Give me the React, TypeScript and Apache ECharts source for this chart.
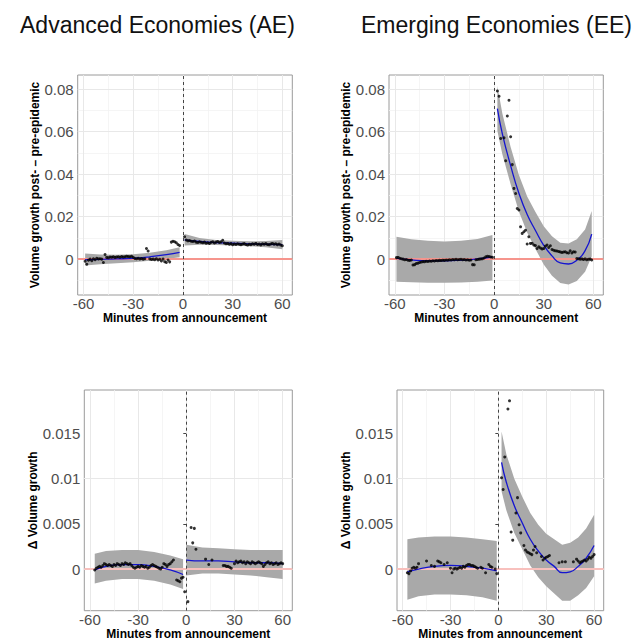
import React, { useEffect, useRef } from 'react';
import * as echarts from 'echarts';

// ---------- tick labels ----------
const X_TICKS = [-60, -30, 0, 30, 60];
const X_MINOR = [-45, -15, 15, 45];
const Y_TICKS_TOP = [0, 0.02, 0.04, 0.06, 0.08];
const Y_MINOR_TOP = [-0.01, 0.01, 0.03, 0.05, 0.07];
const Y_TICKS_BOTTOM = [0, 0.005, 0.01, 0.015];
const Y_MINOR_BOTTOM = [-0.0025, 0.0025, 0.0075, 0.0125, 0.0175];

const TITLES = ['Advanced Economies (AE)', 'Emerging Economies (EE)'];
const Y_NAME_TOP = 'Volume growth post- \u2013 pre-epidemic';
const Y_NAME_BOTTOM = '\u0394 Volume growth';
const X_NAME = 'Minutes from announcement';

// ---------- Panel 1: AE, level ----------
const aeLevPrePts: number[][] = [
  [-59, -0.001], [-58, -0.0024], [-57, -0.0005], [-56, 0.0], [-55, -0.0008], [-54, 0.0002], [-53, -0.0003],
  [-52, 0.0004], [-51, 0.0001], [-50, 0.0002], [-49, 0.0], [-48, -0.0016], [-47, 0.0022], [-46, 0.0008],
  [-45, 0.0006], [-44, 0.001], [-43, 0.0009], [-42, 0.0011], [-41, 0.0008], [-40, 0.001], [-39, 0.0011],
  [-38, 0.0009], [-37, 0.0012], [-36, 0.001], [-35, 0.0011], [-34, 0.0013], [-33, 0.0012], [-32, 0.0011],
  [-31, 0.0013], [-30, 0.0009], [-29, 0.0003], [-28, 0.0002], [-27, 0.0004], [-26, 0.0001], [-25, 0.0003],
  [-24, 0.0], [-23, 0.0002], [-22, 0.005], [-21, 0.0038], [-20, 0.0001], [-19, -0.0002], [-18, 0.0],
  [-17, -0.0003], [-16, 0.0002], [-15, -0.0004], [-14, -0.0001], [-13, -0.0009], [-12, 0.0], [-11, -0.0012],
  [-10, -0.0016], [-9, -0.0004], [-8, -0.0013], [-7, 0.008], [-6, 0.0084], [-5, 0.0082], [-4, 0.0077],
  [-3, 0.0069], [-2, 0.0064],
];
const aeLevPostPts: number[][] = [
  [1, 0.0105], [2, 0.009], [3, 0.0086], [4, 0.0088], [5, 0.0084], [6, 0.0083], [7, 0.0085], [8, 0.008],
  [9, 0.0078], [10, 0.0082], [11, 0.0079], [12, 0.0077], [13, 0.008], [14, 0.0075], [15, 0.0077], [16, 0.0074],
  [17, 0.0079], [18, 0.0082], [19, 0.0076], [20, 0.008], [21, 0.0083], [22, 0.0078], [23, 0.0081], [24, 0.0089],
  [25, 0.0076], [26, 0.0072], [27, 0.0074], [28, 0.007], [29, 0.0073], [30, 0.0068], [31, 0.0071], [32, 0.0069],
  [33, 0.0072], [34, 0.007], [35, 0.0068], [36, 0.0071], [37, 0.0073], [38, 0.0069], [39, 0.0066], [40, 0.007],
  [41, 0.0068], [42, 0.0072], [43, 0.007], [44, 0.0074], [45, 0.0069], [46, 0.0071], [47, 0.0067], [48, 0.0072],
  [49, 0.007], [50, 0.0073], [51, 0.0069], [52, 0.0068], [53, 0.0071], [54, 0.0074], [55, 0.007], [56, 0.0072],
  [57, 0.0068], [58, 0.0071], [59, 0.0066], [60, 0.0063],
];
const aeLevPreFit: number[][] = [[-59, -0.0003], [-50, -0.0001], [-40, 0.0001], [-30, 0.0004], [-20, 0.0011], [-10, 0.0021], [-2, 0.0032]];
const aeLevPreBand: number[][] = [[-59, -0.003, 0.0026], [-50, -0.0024, 0.0022], [-40, -0.0019, 0.0021], [-30, -0.0015, 0.0023], [-20, -0.0008, 0.003], [-10, 0.0001, 0.0042], [-2, 0.0009, 0.0056]];
const aeLevPostFit: number[][] = [[1, 0.0091], [10, 0.0083], [20, 0.0078], [30, 0.0075], [40, 0.0072], [50, 0.007], [60, 0.0068]];
const aeLevPostBand: number[][] = [[1, 0.0064, 0.0118], [10, 0.0068, 0.0099], [20, 0.0066, 0.009], [30, 0.0064, 0.0086], [40, 0.0061, 0.0084], [50, 0.0056, 0.0085], [60, 0.0047, 0.009]];

// ---------- Panel 2: EE, level ----------
const eeLevPrePts: number[][] = [
  [-59, 0.0007], [-58, 0.0008], [-57, 0.0004], [-56, 0.0002], [-55, 0.0], [-54, -0.0003], [-53, -0.0002],
  [-52, -0.0005], [-51, -0.0006], [-50, -0.0004], [-49, -0.0028], [-48, -0.0026], [-47, -0.0021], [-46, -0.0019],
  [-45, -0.0016], [-44, -0.0014], [-43, -0.0012], [-42, -0.0012], [-41, -0.001], [-40, -0.0011], [-39, -0.0009],
  [-38, -0.001], [-37, -0.0008], [-36, -0.0009], [-35, -0.0007], [-34, -0.0008], [-33, -0.0006], [-32, -0.0007],
  [-31, -0.0005], [-30, -0.0006], [-29, -0.0004], [-28, -0.0005], [-27, -0.0003], [-26, -0.0004], [-25, -0.0002],
  [-24, -0.0003], [-23, -0.0001], [-22, -0.0003], [-21, -0.0002], [-20, -0.0001], [-19, -0.0003], [-18, -0.0002],
  [-17, -0.0004], [-16, -0.0003], [-15, -0.0005], [-14, -0.0004], [-13, -0.0026], [-12, -0.0027], [-11, -0.0003],
  [-10, -0.0002], [-9, 0.0], [-8, 0.0001], [-7, 0.0002], [-6, 0.0005], [-5, 0.0011], [-4, 0.0013], [-3, 0.0012],
  [-2, 0.001], [-1, 0.0009],
];
const eeLevPostPts: number[][] = [
  [2, 0.0792], [3, 0.0767], [4, 0.0568], [6, 0.0571], [7, 0.0463], [8, 0.0674], [9, 0.0748], [10, 0.0576],
  [11, 0.0445], [12, 0.0333], [13, 0.0309], [14, 0.0238], [15, 0.0231], [16, 0.0152], [17, 0.0121], [18, 0.0129],
  [19, 0.0136], [20, 0.0071], [21, 0.0105], [22, 0.0074], [23, 0.0075], [24, 0.0066], [25, 0.0064], [26, 0.005],
  [27, 0.0058], [28, 0.0052], [29, 0.0048], [30, 0.005], [31, 0.0061], [32, 0.0066], [33, 0.0055], [34, 0.0063],
  [35, 0.0045], [36, 0.0042], [37, 0.0039], [38, 0.0038], [39, 0.0036], [40, 0.0034], [41, 0.0031], [42, 0.0033],
  [43, 0.0035], [44, 0.003], [45, 0.0029], [46, 0.0039], [47, 0.0029], [48, 0.0035], [49, 0.0033], [50, 0.0003],
  [51, 0.0002], [52, 0.0], [53, 0.0001], [54, -0.0002], [55, 0.0001], [56, -0.0003], [57, -0.0001], [58, 0.0],
  [59, -0.0004],
];
const eeLevPreFit: number[][] = [[-59, 0.0003], [-50, -0.0004], [-40, -0.0008], [-30, -0.0008], [-20, -0.0005], [-10, 0.0001], [-1, 0.001]];
const eeLevPreBand: number[][] = [[-59, -0.0107, 0.0105], [-50, -0.0109, 0.0094], [-40, -0.0111, 0.0086], [-30, -0.0111, 0.0083], [-20, -0.011, 0.0086], [-10, -0.0107, 0.0095], [-1, -0.0101, 0.0113]];
const eeLevPostFit: number[][] = [
  [2, 0.0709], [5, 0.059], [10, 0.044], [15, 0.031], [20, 0.021], [25, 0.0135], [30, 0.0065],
  [35, 0.0015], [40, -0.0018], [45, -0.0023], [50, -0.0005], [55, 0.004], [59, 0.0118],
];
const eeLevPostBand: number[][] = [
  [2, 0.0603, 0.0815], [5, 0.0494, 0.0686], [10, 0.0352, 0.0528], [15, 0.0224, 0.0396], [20, 0.0125, 0.0295],
  [25, 0.0048, 0.0222], [30, -0.0025, 0.0155], [35, -0.0078, 0.0108], [40, -0.0113, 0.0077], [45, -0.012, 0.0074],
  [50, -0.0103, 0.0093], [55, -0.006, 0.014], [59, 0.0012, 0.0226],
];

// ---------- Panel 3: AE, change ----------
const aeChgPrePts: number[][] = [
  [-57, -0.0001], [-56, 0.0001], [-55, 0.0002], [-54, 0.0003], [-53, 0.0002], [-52, 0.0004], [-51, 0.0006],
  [-50, 0.0005], [-49, 0.0004], [-48, 0.0005], [-47, 0.0004], [-46, 0.0003], [-45, 0.0005], [-44, 0.0004],
  [-43, 0.0006], [-42, 0.0005], [-41, 0.0004], [-40, 0.0006], [-39, 0.0005], [-38, 0.0007], [-37, 0.0006],
  [-36, 0.0005], [-35, 0.0006], [-34, 0.0004], [-33, 0.0002], [-32, 0.0001], [-31, 0.0002], [-30, 0.0003],
  [-29, 0.0002], [-28, 0.0004], [-27, 0.0003], [-26, 0.0002], [-25, 0.0003], [-24, 0.0001], [-23, 0.0002],
  [-22, 0.0004], [-21, 0.0005], [-20, 0.0004], [-19, 0.0003], [-18, 0.0002], [-17, 0.0001], [-16, 0.0],
  [-15, 0.0002], [-14, 0.0006], [-13, 0.0005], [-12, 0.0003], [-11, 0.0005], [-10, 0.0006], [-9, 0.0008],
  [-8, 0.001], [-6, -0.0012], [-5, -0.0013], [-4, -0.0014], [-3, -0.001], [-2, -0.0009], [-1, -0.0025],
];
const aeChgPostPts: number[][] = [
  [1, -0.0036], [3, 0.0046], [4, 0.0029], [5, 0.0045], [6, 0.0022], [12, 0.0011], [14, 0.0005], [16, 0.001],
  [23, 0.0004], [24, 0.0004], [25, 0.0003], [26, 0.0003], [27, 0.0002], [28, 0.0001], [30, 0.0006], [31, 0.0009],
  [32, 0.0007], [33, 0.0008], [34, 0.0009], [35, 0.0007], [36, 0.0008], [37, 0.0006], [38, 0.0008], [39, 0.0007],
  [40, 0.0006], [41, 0.0008], [42, 0.0007], [43, 0.0006], [44, 0.0007], [45, 0.0008], [46, 0.0007], [47, 0.0006],
  [48, 0.0003], [49, 0.0005], [50, 0.0007], [51, 0.0008], [52, 0.0006], [53, 0.0007], [54, 0.0005], [55, 0.0006],
  [56, 0.0007], [57, 0.0005], [58, 0.0006], [59, 0.0007], [60, 0.0006],
];
const aeChgPreFit: number[][] = [[-57, -0.0001], [-50, 0.0003], [-40, 0.0005], [-30, 0.0005], [-20, 0.0003], [-10, -0.0001], [-2, -0.0006]];
const aeChgPreBand: number[][] = [[-57, -0.0016, 0.0017], [-50, -0.0013, 0.002], [-40, -0.0011, 0.0021], [-30, -0.0011, 0.0021], [-20, -0.0013, 0.0019], [-10, -0.0017, 0.0015], [-2, -0.0022, 0.0011]];
const aeChgPostFit: number[][] = [[0, 0.001], [10, 0.0009], [20, 0.0009], [30, 0.0008], [40, 0.0007], [50, 0.0007], [60, 0.0006]];
const aeChgPostBand: number[][] = [[0, -0.0007, 0.0027], [10, -0.0005, 0.0024], [20, -0.0005, 0.0023], [30, -0.0006, 0.0022], [40, -0.0007, 0.0021], [50, -0.0009, 0.0021], [60, -0.0011, 0.0021]];

// ---------- Panel 4: EE, change ----------
const eeChgPrePts: number[][] = [
  [-57, -0.0004], [-56, -0.0005], [-55, -0.0002], [-54, 0.0001], [-53, 0.0002], [-52, 0.0001], [-51, 0.0002],
  [-50, 0.0006], [-45, 0.0009], [-42, 0.0004], [-40, 0.0003], [-38, 0.0009], [-37, 0.0008], [-36, 0.0007],
  [-34, 0.0005], [-32, 0.0007], [-30, 0.0001], [-29, -0.0004], [-28, 0.0], [-27, 0.0001], [-26, 0.0],
  [-25, 0.0001], [-24, 0.0002], [-23, 0.0001], [-22, 0.0003], [-21, 0.0002], [-20, 0.0004], [-19, 0.0005],
  [-18, 0.0005], [-17, 0.0004], [-16, 0.0004], [-15, 0.0003], [-14, 0.0002], [-13, 0.0001], [-11, 0.0002],
  [-10, 0.0001], [-8, -0.0004], [-6, 0.0005], [-5, 0.0003], [-4, 0.0002], [-2, 0.0], [-1, -0.0005],
];
const eeChgPostPts: number[][] = [
  [2, 0.0101], [3, 0.0088], [4, 0.0124], [6, 0.0177], [7, 0.0186], [8, 0.0041], [9, 0.0032], [11, 0.0062],
  [12, 0.0079], [13, 0.0049], [14, 0.004], [16, 0.0026], [17, 0.0021], [18, 0.0019], [19, 0.0018], [20, 0.0017],
  [21, 0.0016], [22, 0.0021], [23, 0.0025], [24, 0.0018], [27, 0.0014], [28, 0.001], [29, 0.0012], [30, 0.0013],
  [31, 0.0014], [32, 0.0015], [38, 0.0007], [40, 0.0008], [42, 0.0008], [47, 0.0008], [49, 0.0011], [50, 0.0009],
  [51, 0.0007], [52, 0.0008], [53, 0.0009], [54, 0.001], [55, 0.0009], [56, 0.0011], [57, 0.0013], [58, 0.0012],
  [59, 0.0014], [60, 0.0016],
];
const eeChgPreFit: number[][] = [[-57, -0.0003], [-50, 0.0], [-40, 0.0003], [-30, 0.0004], [-20, 0.0003], [-10, 0.0001], [-1, -0.0002]];
const eeChgPreBand: number[][] = [[-57, -0.0034, 0.0033], [-50, -0.003, 0.0035], [-40, -0.0028, 0.0036], [-30, -0.0028, 0.0036], [-20, -0.0029, 0.0035], [-10, -0.0031, 0.0033], [-1, -0.0035, 0.0031]];
const eeChgPostFit: number[][] = [
  [2, 0.0118], [5, 0.0096], [10, 0.007], [15, 0.0051], [20, 0.0033], [25, 0.002], [30, 0.001],
  [35, 0.0003], [40, -0.0004], [45, -0.0003], [50, 0.0003], [55, 0.0012], [60, 0.0026],
];
const eeChgPostBand: number[][] = [
  [2, 0.0086, 0.0152], [5, 0.0065, 0.0127], [10, 0.004, 0.01], [15, 0.0022, 0.008], [20, 0.0004, 0.0062],
  [25, -0.0009, 0.0049], [30, -0.0019, 0.0039], [35, -0.0027, 0.0033], [40, -0.0035, 0.0027], [45, -0.0035, 0.0029],
  [50, -0.0029, 0.0035], [55, -0.0021, 0.0045], [60, -0.0008, 0.006],
];

// ---------- styling / layout ----------
const FONT = "'Liberation Sans', Arial, Helvetica, sans-serif";
const RIBBON = '#a9a9a9';
const BLUE = '#1414d0';
const MAJOR = '#e8e8e8';
const MINOR = '#f3f3f3';
const X_MIN = -63.5;
const X_MAX = 66;

const PANELS = [
  {
    grid: { left: 77.7, top: 75, width: 214.6, height: 220 },
    yMin: -0.0169, yMax: 0.0867, yTicks: Y_TICKS_TOP, yMinor: Y_MINOR_TOP, yName: Y_NAME_TOP, nameGap: 28,
    zeroColor: '#f6958d',
    prePts: aeLevPrePts, postPts: aeLevPostPts, preFit: aeLevPreFit, postFit: aeLevPostFit, preBand: aeLevPreBand, postBand: aeLevPostBand,
  },
  {
    grid: { left: 389, top: 75, width: 214.3, height: 220 },
    yMin: -0.0169, yMax: 0.0867, yTicks: Y_TICKS_TOP, yMinor: Y_MINOR_TOP, yName: Y_NAME_TOP, nameGap: 25,
    zeroColor: '#f6958d',
    prePts: eeLevPrePts, postPts: eeLevPostPts, preFit: eeLevPreFit, postFit: eeLevPostFit, preBand: eeLevPreBand, postBand: eeLevPostBand,
  },
  {
    grid: { left: 84.3, top: 390, width: 208, height: 220.7 },
    yMin: -0.0046, yMax: 0.0198, yTicks: Y_TICKS_BOTTOM, yMinor: Y_MINOR_BOTTOM, yName: Y_NAME_BOTTOM, nameGap: 32,
    zeroColor: '#f8c0bd',
    prePts: aeChgPrePts, postPts: aeChgPostPts, preFit: aeChgPreFit, postFit: aeChgPostFit, preBand: aeChgPreBand, postBand: aeChgPostBand,
  },
  {
    grid: { left: 397, top: 390, width: 206.7, height: 220.7 },
    yMin: -0.0046, yMax: 0.0198, yTicks: Y_TICKS_BOTTOM, yMinor: Y_MINOR_BOTTOM, yName: Y_NAME_BOTTOM, nameGap: 33,
    zeroColor: '#f8c0bd',
    prePts: eeChgPrePts, postPts: eeChgPostPts, preFit: eeChgPreFit, postFit: eeChgPostFit, preBand: eeChgPreBand, postBand: eeChgPostBand,
  },
];

function bandSeries(i: number, band: number[][]) {
  return {
    type: 'custom', xAxisIndex: i, yAxisIndex: i, silent: true, z: 2,
    data: band,
    encode: { x: 0, y: [1, 2] },
    renderItem: (params: any, api: any) => {
      if (params.dataIndex !== 0) return null;
      const top = band.map((b) => api.coord([b[0], b[2]]));
      const bottom = band.map((b) => api.coord([b[0], b[1]])).reverse();
      return {
        type: 'polygon',
        shape: { points: [...top, ...bottom] },
        style: { fill: RIBBON, stroke: null },
      };
    },
  };
}

function fitSeries(i: number, fit: number[][], markLine?: any) {
  const s: any = {
    type: 'line', xAxisIndex: i, yAxisIndex: i, smooth: true, symbol: 'none', showSymbol: false, silent: true, z: 3,
    lineStyle: { color: BLUE, width: 1.3 },
    data: fit,
  };
  if (markLine) s.markLine = markLine;
  return s;
}

function buildOption() {
  const grids: any[] = [];
  const xAxes: any[] = [];
  const yAxes: any[] = [];
  const series: any[] = [];
  PANELS.forEach((p, i) => {
    grids.push({ ...p.grid, show: true, borderColor: '#9a9a9a', borderWidth: 1, backgroundColor: '#fff', containLabel: false });
    xAxes.push({
      type: 'value', gridIndex: i, min: X_MIN, max: X_MAX,
      axisLine: { show: false },
      axisTick: { show: true, customValues: X_TICKS, length: 3, lineStyle: { color: '#444' } },
      axisLabel: { customValues: X_TICKS, color: '#4d4d4d', fontSize: 15, margin: 1, fontFamily: FONT },
      splitLine: { show: false },
      name: X_NAME, nameLocation: 'middle', nameGap: 17,
      nameTextStyle: { fontWeight: 'bold', fontSize: 12, color: '#000', fontFamily: FONT },
    });
    yAxes.push({
      type: 'value', gridIndex: i, min: p.yMin, max: p.yMax,
      axisLine: { show: false },
      axisTick: { show: true, customValues: p.yTicks, length: 3, lineStyle: { color: '#444' } },
      axisLabel: { customValues: p.yTicks, color: '#4d4d4d', fontSize: 15, margin: 4, fontFamily: FONT },
      splitLine: { show: false },
      name: p.yName, nameLocation: 'middle', nameGap: p.nameGap,
      nameTextStyle: { fontWeight: 'bold', fontSize: 12, color: '#000', fontFamily: FONT },
    });
    const gridLines = {
      silent: true, symbol: 'none', z: 1, label: { show: false }, emphasis: { disabled: true },
      data: [
        ...X_MINOR.map((v) => ({ xAxis: v, lineStyle: { color: MINOR, width: 0.8, type: 'solid' } })),
        ...p.yMinor.map((v) => ({ yAxis: v, lineStyle: { color: MINOR, width: 0.8, type: 'solid' } })),
        ...X_TICKS.map((v) => ({ xAxis: v, lineStyle: { color: MAJOR, width: 1, type: 'solid' } })),
        ...p.yTicks.map((v) => ({ yAxis: v, lineStyle: { color: MAJOR, width: 1, type: 'solid' } })),
      ],
    };
    series.push(bandSeries(i, p.preBand));
    series.push(bandSeries(i, p.postBand));
    series.push(fitSeries(i, p.preFit, gridLines));
    series.push(fitSeries(i, p.postFit));
    series.push({
      type: 'scatter', xAxisIndex: i, yAxisIndex: i, symbol: 'circle', symbolSize: 3, silent: true, z: 4,
      itemStyle: { color: '#000' },
      data: [...p.prePts, ...p.postPts],
      markLine: {
        silent: true, symbol: 'none', z: 3, label: { show: false }, emphasis: { disabled: true },
        data: [
          { yAxis: 0, lineStyle: { color: p.zeroColor, width: 2, type: 'solid' } },
          { xAxis: 0, lineStyle: { color: '#444', width: 1, type: [3, 3] } },
        ],
      },
    });
  });
  return {
    animation: false,
    backgroundColor: '#fff',
    title: [
      { text: TITLES[0], left: 15, top: 8, textStyle: { fontSize: 23, fontWeight: 'normal', color: '#111', fontFamily: FONT } },
      { text: TITLES[1], left: 356, top: 8, textStyle: { fontSize: 23, fontWeight: 'normal', color: '#111', fontFamily: FONT } },
    ],
    grid: grids,
    xAxis: xAxes,
    yAxis: yAxes,
    series,
  };
}

export default function App() {
  const ref = useRef<HTMLDivElement>(null);
  useEffect(() => {
    if (!ref.current) return;
    const chart = echarts.init(ref.current, undefined, { renderer: 'svg' });
    chart.setOption(buildOption() as any);
    return () => chart.dispose();
  }, []);
  return <div ref={ref} style={{ position: 'absolute', left: 0, top: 0, width: 640, height: 642 }} />;
}
